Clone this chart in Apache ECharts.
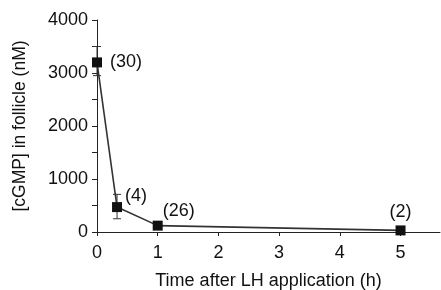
<!DOCTYPE html>
<html>
<head>
<meta charset="utf-8">
<title>cGMP</title>
<script src="https://cdn.jsdelivr.net/npm/echarts@6/dist/echarts.min.js"></script>
<style>
  html, body { margin: 0; padding: 0; background: #fff; }
  #main { width: 441px; height: 290px; }
</style>
</head>
<body>
<div id="main"></div>
<script>
// data
var hours = [0, 0.33, 1, 5];
var cgmp = [3200, 470, 120, 30];
var errLow = [2950, 250, 90, 20];
var errHigh = [3500, 710, 150, 40];
var nLabels = ['(30)', '(4)', '(26)', '(2)'];
var yTicks = [0, 1000, 2000, 3000, 4000];

var font = 'Liberation Sans, Arial, sans-serif';
var chart = echarts.init(document.getElementById('main'));

var pts = hours.map(function (h, i) { return [h, cgmp[i]]; });
var bars = hours.map(function (h, i) { return [h, errLow[i], errHigh[i]]; });

var labelPos = [
  { position: 'right', distance: 8 },
  { position: 'right', distance: 3, offset: [0, -11] },
  { position: 'right', distance: 0, offset: [0, -15] },
  { position: 'top', distance: 4 }
];

chart.setOption({
  animation: false,
  grid: { left: 97, right: 1, top: 20, bottom: 58, outerBoundsMode: 'none' },
  xAxis: {
    type: 'value', min: 0, max: 5.65, interval: 1,
    name: 'Time after LH application (h)',
    nameLocation: 'middle', nameGap: 40,
    nameTextStyle: { fontFamily: font, fontSize: 18, color: '#111' },
    axisLine: { lineStyle: { color: '#222', width: 1 } },
    axisTick: { length: 4, lineStyle: { color: '#222' } },
    axisLabel: { fontFamily: font, fontSize: 18, color: '#111', margin: 12, showMaxLabel: false },
    splitLine: { show: false }
  },
  yAxis: {
    type: 'value', min: 0, max: 4000, interval: 500,
    name: '[cGMP] in follicle (nM)',
    nameLocation: 'middle', nameGap: 68, nameRotate: 90,
    nameTextStyle: { fontFamily: font, fontSize: 17.5, color: '#111' },
    axisLine: { show: true, lineStyle: { color: '#222', width: 1 } },
    axisTick: { show: true, length: 5, lineStyle: { color: '#222' } },
    axisLabel: {
      fontFamily: font, fontSize: 18, color: '#111', margin: 9,
      formatter: function (v) { return yTicks.indexOf(v) >= 0 ? String(v) : ''; }
    },
    splitLine: { show: false }
  },
  series: [
    {
      type: 'custom',
      data: bars,
      z: 3,
      renderItem: function (params, api) {
        var x = api.value(0);
        var lo = api.coord([x, api.value(1)]);
        var hi = api.coord([x, api.value(2)]);
        var w = 4;
        var st = { stroke: '#333', lineWidth: 1 };
        return {
          type: 'group',
          children: [
            { type: 'line', shape: { x1: lo[0], y1: lo[1], x2: hi[0], y2: hi[1] }, style: st },
            { type: 'line', shape: { x1: lo[0] - w, y1: lo[1], x2: lo[0] + w, y2: lo[1] }, style: st },
            { type: 'line', shape: { x1: hi[0] - w, y1: hi[1], x2: hi[0] + w, y2: hi[1] }, style: st }
          ]
        };
      }
    },
    {
      type: 'line',
      data: pts.map(function (p, i) {
        return {
          value: p,
          label: Object.assign({
            show: true, formatter: nLabels[i],
            fontFamily: font, fontSize: 18, color: '#111'
          }, labelPos[i])
        };
      }),
      symbol: 'rect', symbolSize: 10,
      itemStyle: { color: '#111' },
      lineStyle: { color: '#333', width: 1.6 },
      z: 4
    }
  ]
});
</script>
</body>
</html>
